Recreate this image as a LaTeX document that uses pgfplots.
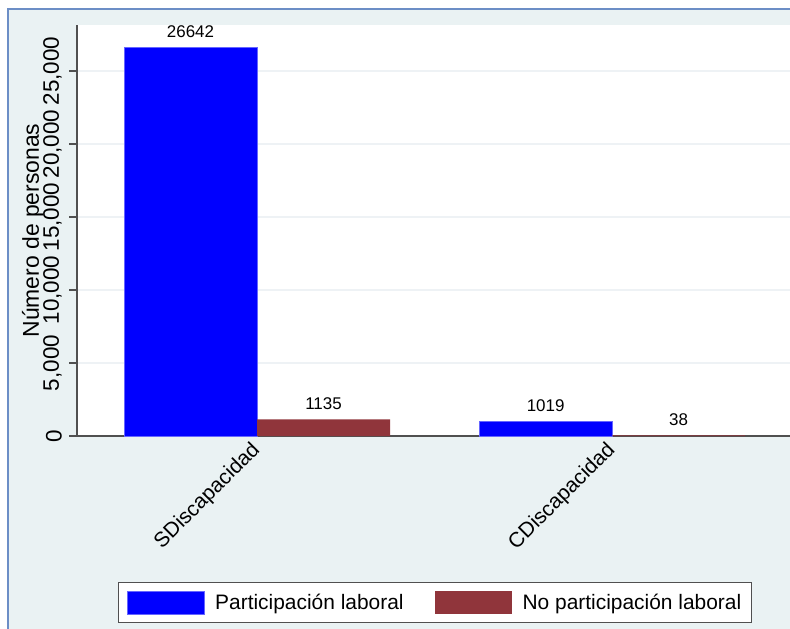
\documentclass[border=0pt]{standalone}
\usepackage{pgfplots}
\pgfplotsset{compat=1.18}
\usepackage{fontspec}
\setmainfont{Liberation Sans}
\definecolor{bgcol}{HTML}{EAF2F3}
\definecolor{framecol}{HTML}{6C8EC6}
\definecolor{gridcol}{HTML}{EEF2F5}
\definecolor{axcol}{HTML}{505050}
\definecolor{sblue}{HTML}{0000FF}
\definecolor{smaroon}{HTML}{90353B}
\begin{document}
\begin{tikzpicture}
\useasboundingbox (0,0) rectangle (790bp,629bp);
\fill[white] (0,0) rectangle (790bp,629bp);
\fill[bgcol] (7.5bp,0) rectangle (790bp,619.5bp);
\draw[framecol, line width=2bp] (7.5bp,0) -- (7.5bp,619.5bp) -- (790bp,619.5bp);
\begin{axis}[
  at={(77bp,193bp)}, anchor=south west,
  scale only axis, width=713bp, height=411bp,
  xmin=-0.507, xmax=1.501, ymin=0, ymax=28151,
  axis background/.style={fill=white},
  axis x line=bottom, axis y line=left,
  axis line style={draw=axcol, line width=1.2bp, -},
  x axis line style={-}, y axis line style={-},
  ybar, bar width=0.3746, bar shift=0pt,
  xtick={0,1}, xticklabels={SDiscapacidad,CDiscapacidad},
  xtick style={draw=none},
  x tick label style={font=\fontsize{21}{25}\selectfont, rotate=45, anchor=east, inner sep=0pt, xshift=-2bp, yshift=-2bp},
  ytick={0,5000,10000,15000,20000,25000},
  ytick style={draw=axcol, line width=1.2bp},
  tick align=outside, major tick length=8bp,
  y tick label style={font=\fontsize{22.5}{26}\selectfont, rotate=90, anchor=south, inner sep=0pt, yshift=7bp},
  /pgf/number format/assume math mode=true,
  /pgf/number format/1000 sep={,},
  scaled y ticks=false,
  ymajorgrids, major grid style={draw=gridcol, line width=1.5bp},
  ylabel={Número de personas},
  ylabel style={font=\fontsize{23}{27}\selectfont, at={(axis description cs:-0.0533,0.5)}, anchor=base},
  point meta=explicit symbolic,
  nodes near coords,
  every node near coord/.append style={font=\fontsize{17}{20}\selectfont, anchor=base, yshift=10bp, inner sep=0pt},
  legend columns=2,
  legend style={at={(0.502,-0.405)}, anchor=center, draw=axcol, line width=1bp, fill=white,
    font=\fontsize{21}{25}\selectfont, inner xsep=8bp, inner ysep=8bp,
    /tikz/every even column/.append style={column sep=29bp}},
  legend image code/.code={\fill[#1] (0bp,-11.5bp) rectangle (77bp,11.5bp); \path (86bp,0);},
  legend cell align=left,
  clip=false,
]
\addplot[fill=sblue, draw=sblue!60!white, line width=0.6bp] coordinates {(-0.1873,26642)[26642] (0.8127,1019)[1019]};
\addlegendentry{Participación laboral}
\addplot[fill=smaroon, draw=none] coordinates {(0.1873,1135)[1135] (1.1873,38)[38]};
\addlegendentry{No participación laboral}
\end{axis}
\end{tikzpicture}
\end{document}
